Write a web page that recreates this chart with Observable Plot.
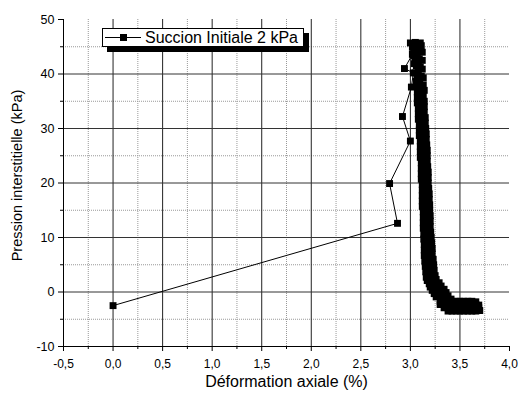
<!DOCTYPE html>
<html><head><meta charset="utf-8">
<script src="https://cdn.jsdelivr.net/npm/d3@7"></script>
<script src="https://cdn.jsdelivr.net/npm/@observablehq/plot@0.6"></script>
<style>
body{margin:0;background:#fff;}
#wrap{position:relative;width:519px;height:394px;font-family:Arial,"Liberation Sans",sans-serif;}
#legend{position:absolute;left:102px;top:28px;width:200px;height:17px;border:1px solid #000;background:#fff;box-shadow:5px 5px 0 #000;}
#legend svg{position:absolute;left:1px;top:3px;}
#legend span{position:absolute;left:42px;top:0;font-size:16px;line-height:18px;white-space:nowrap;}
</style></head><body><div id="wrap"></div>
<script>
const seriesName = "Succion Initiale 2 kPa";
const xLabel = "Déformation axiale (%)";
const yLabel = "Pression interstitielle (kPa)";

const strain = [
  0.00, 2.87, 2.79, 3.00, 2.92, 3.01, 3.03, 2.94, 3.02,
  3.00, 3.05, 3.10, 3.11, 3.06, 3.02, 3.04, 3.08, 3.12, 3.07, 3.04, 3.05, 3.09, 3.12, 3.08, 3.04, 3.06, 3.10, 3.12, 3.08, 3.05, 3.07, 3.11, 3.13,
  3.06, 3.095, 3.13,  3.06, 3.10, 3.14,  3.07, 3.10, 3.13,  3.07, 3.105, 3.14,  3.07, 3.105, 3.14,
  3.08, 3.11, 3.14,  3.08, 3.115, 3.15,  3.08, 3.115, 3.15,  3.09, 3.12, 3.155,  3.09, 3.125, 3.16,
  3.09, 3.125, 3.16,  3.10, 3.13, 3.165,  3.10, 3.135, 3.17,  3.10, 3.135, 3.17,  3.10, 3.135, 3.17,
  3.11, 3.14, 3.175,  3.11, 3.145, 3.18,  3.11, 3.145, 3.18,  3.11, 3.145, 3.18,  3.12, 3.15, 3.185,
  3.12, 3.155, 3.19,  3.12, 3.155, 3.19,  3.12, 3.16, 3.195,  3.12, 3.16, 3.195,  3.13, 3.165, 3.20,
  3.13, 3.165, 3.20,  3.13, 3.165, 3.20,  3.13, 3.17, 3.205,  3.135, 3.17, 3.21,  3.135, 3.175, 3.215,
  3.14, 3.18, 3.22,  3.14, 3.18, 3.22,  3.14, 3.185, 3.23,  3.145, 3.19, 3.235,  3.15, 3.195, 3.24,
  3.155, 3.20, 3.25,
  3.16, 3.21, 3.26,  3.17, 3.23, 3.29,  3.19, 3.25, 3.31,  3.20, 3.27, 3.34,  3.22, 3.29, 3.36,  3.24, 3.31, 3.38,  3.26, 3.33, 3.41,
  3.30, 3.30,  3.34, 3.34, 3.34,  3.38, 3.38, 3.38, 3.38,  3.42, 3.42, 3.42, 3.42,  3.46, 3.46, 3.46, 3.46,
  3.50, 3.50, 3.50, 3.50,  3.54, 3.54, 3.54, 3.54,  3.58, 3.58, 3.58, 3.58,  3.62, 3.62, 3.62, 3.62,
  3.66, 3.66, 3.66, 3.66,  3.69, 3.69, 3.70
];
const pressure = [
  -2.5, 12.6, 19.9, 27.7, 32.2, 37.6, 40.2, 41.0, 43.6,
  45.7, 45.8, 45.7, 45.2, 45.1, 44.9, 44.4, 44.3, 44.0, 43.7, 43.3, 42.9, 42.8, 42.5, 42.2, 41.9, 41.5, 41.3, 40.9, 40.6, 40.2, 39.8, 39.6, 39.3,
  38.7, 38.35, 38.0,  37.7, 37.35, 37.0,  36.7, 36.35, 36.0,  35.7, 35.35, 35.0,  34.7, 34.35, 34.0,
  33.7, 33.35, 33.0,  32.7, 32.35, 32.0,  31.7, 31.35, 31.0,  30.7, 30.35, 30.0,  29.7, 29.35, 29.0,
  28.7, 28.35, 28.0,  27.7, 27.35, 27.0,  26.7, 26.35, 26.0,  25.7, 25.35, 25.0,  24.7, 24.35, 24.0,
  23.7, 23.35, 23.0,  22.7, 22.35, 22.0,  21.7, 21.35, 21.0,  20.7, 20.35, 20.0,  19.7, 19.35, 19.0,
  18.7, 18.35, 18.0,  17.7, 17.35, 17.0,  16.7, 16.35, 16.0,  15.7, 15.35, 15.0,  14.7, 14.35, 14.0,
  13.7, 13.35, 13.0,  12.7, 12.35, 12.0,  11.7, 11.35, 11.0,  10.7, 10.35, 10.0,  9.7, 9.35, 9.0,
  8.7, 8.35, 8.0,  7.7, 7.35, 7.0,  6.7, 6.35, 6.0,  5.7, 5.35, 5.0,  4.7, 4.35, 4.0,
  3.7, 3.35, 3.0,
  2.7, 2.5, 2.3,  2.1, 1.9, 1.7,  1.5, 1.3, 1.1,  0.9, 0.7, 0.5,  0.3, 0.1, -0.1,  -0.3, -0.5, -0.7,  -0.9, -1.1, -1.3,
  -1.7, -2.3,  -2.9, -2.3, -1.7,  -1.7, -2.3, -2.9, -3.5,  -3.5, -2.9, -2.3, -1.7,  -1.7, -2.3, -2.9, -3.5,
  -3.5, -2.9, -2.3, -1.7,  -1.7, -2.3, -2.9, -3.5,  -3.5, -2.9, -2.3, -1.7,  -1.7, -2.3, -2.9, -3.5,
  -3.5, -2.9, -2.3, -1.8,  -2.4, -2.9, -3.4
];

const xTicks = [-0.5, 0, 0.5, 1, 1.5, 2, 2.5, 3, 3.5, 4];
const xMinor = [-0.25, 0.25, 0.75, 1.25, 1.75, 2.25, 2.75, 3.25, 3.75];
const yTicks = [-10, 0, 10, 20, 30, 40, 50];
const yMinor = [-5, 5, 15, 25, 35, 45];

const data = strain.map((x, i) => ({x, y: pressure[i]}));
const fmtX = d => d.toFixed(1).replace(".", ",");

const chart = Plot.plot({
  width: 519, height: 394,
  marginLeft: 63, marginRight: 10, marginTop: 19, marginBottom: 48,
  x: {domain: [-0.5, 4]},
  y: {domain: [-10, 50]},
  style: {fontFamily: "Arial, 'Liberation Sans', sans-serif", background: "white", color: "black"},
  marks: [
    Plot.ruleX(xMinor, {stroke: "#999", strokeDasharray: "1,1"}),
    Plot.ruleY(yMinor, {stroke: "#999", strokeDasharray: "1,1"}),
    Plot.ruleX(xTicks.filter(v => v > -0.5 && v < 4), {stroke: "#222"}),
    Plot.ruleY(yTicks.filter(v => v > -10 && v < 50), {stroke: "#333"}),
    Plot.line(data, {x: "x", y: "y", stroke: "black", strokeWidth: 1}),
    Plot.dot(data, {x: "x", y: "y", symbol: "square", r: 3.9, fill: "black", stroke: "none"}),
    Plot.ruleX([-0.5], {stroke: "black"}),
    Plot.ruleY([-10], {stroke: "black"}),
    Plot.axisX(xTicks, {tickSize: 5, tickPadding: 8, fontSize: 12, tickFormat: fmtX, label: null}),
    Plot.axisX(xMinor, {tickSize: 3, tickFormat: () => "", label: null}),
    Plot.axisY(yTicks, {tickSize: 5, tickPadding: 4, fontSize: 12.5, tickFormat: d => String(d), label: null}),
    Plot.axisY(yMinor, {tickSize: 3, tickFormat: () => "", label: null}),
    Plot.text([xLabel], {frameAnchor: "bottom", textAnchor: "middle", dy: 40, fontSize: 16}),
    Plot.text([yLabel], {frameAnchor: "left", textAnchor: "middle", dx: -46, dy: -7.5, rotate: -90, fontSize: 14.5})
  ]
});
const wrap = document.getElementById("wrap");
wrap.appendChild(chart);
const lg = document.createElement("div");
lg.id = "legend";
lg.innerHTML = '<svg width="38" height="11"><line x1="1" y1="5.5" x2="37" y2="5.5" stroke="#000"/><rect x="16" y="2" width="7" height="7" fill="#000"/></svg><span></span>';
lg.querySelector("span").textContent = seriesName;
wrap.appendChild(lg);
</script>
</body></html>
